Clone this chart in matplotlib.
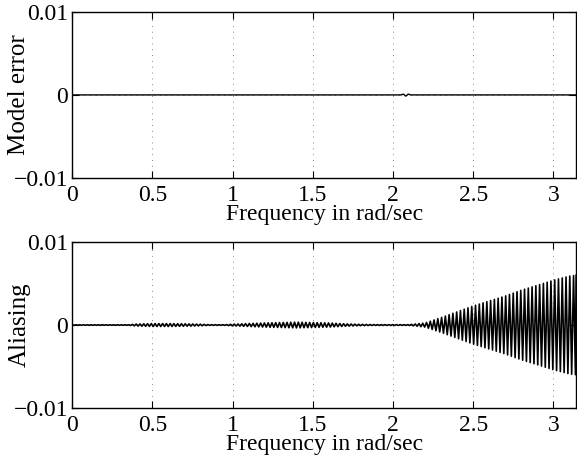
import numpy as np
import matplotlib
matplotlib.use("Agg")
import matplotlib.pyplot as plt

plt.rcParams['font.family'] = ['Liberation Serif', 'DejaVu Serif']
plt.rcParams['font.size'] = 17

# Model error: flat with a tiny blip near 2.08 rad/s
err_freq = [0.0, 2.05, 2.065, 2.08, 2.095, 2.11, np.pi]
err_vals = [0.0, 0.0, 0.0001, -0.00015, 0.0001, 0.0, 0.0]

# Aliasing envelope (half peak-to-peak, x1e-3)
env_freq = [0.0, 0.35, 0.4, 0.5, 0.6, 0.7, 0.8, 0.86, 0.95, 1.0, 1.1, 1.2,
            1.3, 1.4, 1.5, 1.6, 1.7, 1.8, 1.9, 2.0, 2.1, 2.2, 2.3, 2.4, 2.5,
            2.6, 2.7, 2.8, 2.9, 3.0, 3.1, np.pi]
env_amp = [0.03, 0.03, 0.12, 0.18, 0.18, 0.15, 0.1, 0.04, 0.04, 0.1, 0.18,
           0.25, 0.3, 0.35, 0.3, 0.25, 0.15, 0.08, 0.05, 0.05, 0.05, 0.25,
           0.9, 1.6, 2.3, 2.9, 3.5, 4.2, 4.8, 5.4, 5.9, 6.0]
osc_period = 0.0235  # rad/s per oscillation cycle

xticks = [0, 0.5, 1, 1.5, 2, 2.5, 3]
xticklabels = ['0', '0.5', '1', '1.5', '2', '2.5', '3']
yticks = [-0.01, 0, 0.01]
yticklabels = ['\u22120.01', '0', '0.01']

# zigzag through the envelope peaks
half = osc_period / 2
pk_f = np.arange(0, np.pi + half, half)
pk_f[-1] = np.pi
pk_a = np.interp(pk_f, env_freq, np.array(env_amp) * 1e-3)
sign = np.where(np.arange(len(pk_f)) % 2 == 0, 1, -1)
alias = pk_a * sign

fig = plt.figure(figsize=(5.77, 4.63), dpi=100)
ax1 = fig.add_axes([0.125, 0.616, 0.8735, 0.358])
ax2 = fig.add_axes([0.125, 0.119, 0.8735, 0.358])

ax1.plot(err_freq, err_vals, color='black', linewidth=1.0)
ax2.plot(pk_f, alias, color='black', linewidth=1.2)

for ax, lab in [(ax1, 'Model error'), (ax2, 'Aliasing')]:
    ax.set_xlim(0, np.pi)
    ax.set_ylim(-0.01, 0.01)
    ax.set_xticks(xticks)
    ax.set_xticklabels(xticklabels)
    ax.set_yticks(yticks)
    ax.set_yticklabels(yticklabels)
    ax.grid(True, linestyle=(0, (1, 5)), color='#888888', linewidth=0.7)
    ax.tick_params(direction='in', length=5, top=True, right=True)
    ax.tick_params(axis='x', pad=5)
    ax.tick_params(axis='y', pad=3)
    ax.set_xlabel('Frequency in rad/sec', labelpad=-1)
    ax.set_ylabel(lab, fontsize=18)
    ax.yaxis.set_label_coords(-0.083, 0.5)
    for s in ax.spines.values():
        s.set_linewidth(1.0)

fig.savefig('out.png', dpi=100)
